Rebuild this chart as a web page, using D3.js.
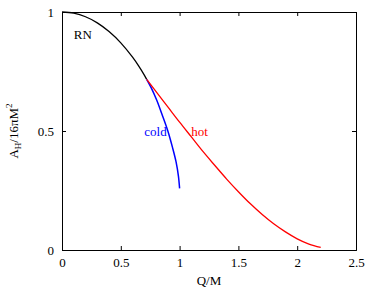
<!DOCTYPE html>
<html lang="en">
  <head>
    <meta charset="utf-8" />
    <title>Horizon area</title>
    <script src="https://d3js.org/d3.v7.min.js"></script>
    <style>
      body { margin: 0; background: #fff; }
      svg text { font-family: 'Liberation Serif', 'Times New Roman', 'DejaVu Serif', serif !important; }
    </style>
  </head>
  <body>
    <script>
      // values
      var rnQ = [0, 0.1, 0.2, 0.3, 0.4, 0.5, 0.6, 0.65, 0.7, 0.72];
      var rnA = [1, 0.995, 0.98, 0.9545, 0.918, 0.8705, 0.81, 0.775, 0.735, 0.717];

      var coldQ = [0.72, 0.76, 0.805, 0.85, 0.9, 0.94, 0.97, 0.99, 1.0];
      var coldA = [0.717, 0.68, 0.63, 0.57, 0.50, 0.43, 0.37, 0.31, 0.259];

      var hotQ = [0.72, 0.8, 0.9, 1.0, 1.1, 1.2, 1.3, 1.4, 1.5, 1.6, 1.7, 1.8, 1.9, 2.0, 2.1, 2.2];
      var hotA = [0.717, 0.665, 0.601, 0.537, 0.475, 0.413, 0.355, 0.298, 0.245, 0.195, 0.150, 0.110, 0.076, 0.047, 0.025, 0.011];

      var xTicks = [0, 0.5, 1, 1.5, 2, 2.5];
      var yTicks = [0, 0.5, 1];

      var width = 378, height = 291;
      var margin = { top: 12, right: 22, bottom: 41, left: 62 };

      var svg = d3.select("body").append("svg")
        .attr("width", width)
        .attr("height", height);

      var x = d3.scaleLinear().domain([0, 2.5]).range([margin.left, width - margin.right]);
      var y = d3.scaleLinear().domain([0, 1]).range([height - margin.bottom, margin.top]);

      function series(qs, as) {
        return qs.map(function (q, i) { return [q, as[i]]; });
      }

      var line = d3.line()
        .x(function (d) { return x(d[0]); })
        .y(function (d) { return y(d[1]); })
        .curve(d3.curveMonotoneX);

      var lineY = d3.line()
        .x(function (d) { return x(d[0]); })
        .y(function (d) { return y(d[1]); })
        .curve(d3.curveMonotoneY);

      svg.append("path").datum(series(rnQ, rnA))
        .attr("d", line).attr("fill", "none").attr("stroke", "#000").attr("stroke-width", 1.3);
      svg.append("path").datum(series(coldQ, coldA))
        .attr("d", lineY).attr("fill", "none").attr("stroke", "#0000ff").attr("stroke-width", 1.5);
      svg.append("path").datum(series(hotQ, hotA))
        .attr("d", line).attr("fill", "none").attr("stroke", "#ff0000").attr("stroke-width", 1.3);

      // axes, ticks pointing inward on all four sides
      var tick = 4;
      svg.append("g").attr("transform", "translate(0," + y(0) + ")")
        .call(d3.axisBottom(x).tickValues(xTicks).tickSize(-tick).tickPadding(8).tickFormat(d3.format("")));
      svg.append("g").attr("transform", "translate(0," + y(1) + ")")
        .call(d3.axisTop(x).tickValues(xTicks).tickSize(-tick).tickFormat(""));
      svg.append("g").attr("transform", "translate(" + x(0) + ",0)")
        .call(d3.axisLeft(y).tickValues(yTicks).tickSize(-tick).tickPadding(8).tickFormat(d3.format("")));
      svg.append("g").attr("transform", "translate(" + x(2.5) + ",0)")
        .call(d3.axisRight(y).tickValues(yTicks).tickSize(-tick).tickFormat(""));

      svg.selectAll("g").attr("font-family", null);
      svg.selectAll(".domain").attr("stroke", "#000");
      svg.selectAll(".tick line").attr("stroke", "#000");
      svg.selectAll(".tick text")
        .attr("font-size", 13)
        .attr("fill", "#000");

      // curve labels
      svg.append("text").attr("x", x(0.10)).attr("y", y(0.886))
        .attr("font-size", 13).text("RN");
      svg.append("text").attr("x", x(0.70)).attr("y", y(0.5) + 5)
        .attr("font-size", 13).attr("fill", "#0000ff").text("cold");
      svg.append("text").attr("x", x(1.10)).attr("y", y(0.5) + 5)
        .attr("font-size", 13).attr("fill", "#ff0000").text("hot");

      // axis titles
      svg.append("text").attr("x", x(1.25)).attr("y", 285)
        .attr("text-anchor", "middle").attr("font-size", 13).text("Q/M");

      var yl = svg.append("text")
        .attr("transform", "translate(18," + y(0.5) + ") rotate(-90)")
        .attr("text-anchor", "middle").attr("font-size", 13);
      yl.append("tspan").text("A");
      yl.append("tspan").attr("font-size", 9).attr("dy", 3).text("H");
      yl.append("tspan").attr("dy", -3).text("/16πM");
      yl.append("tspan").attr("font-size", 9).attr("dy", -6).text("2");
    </script>
  </body>
</html>
